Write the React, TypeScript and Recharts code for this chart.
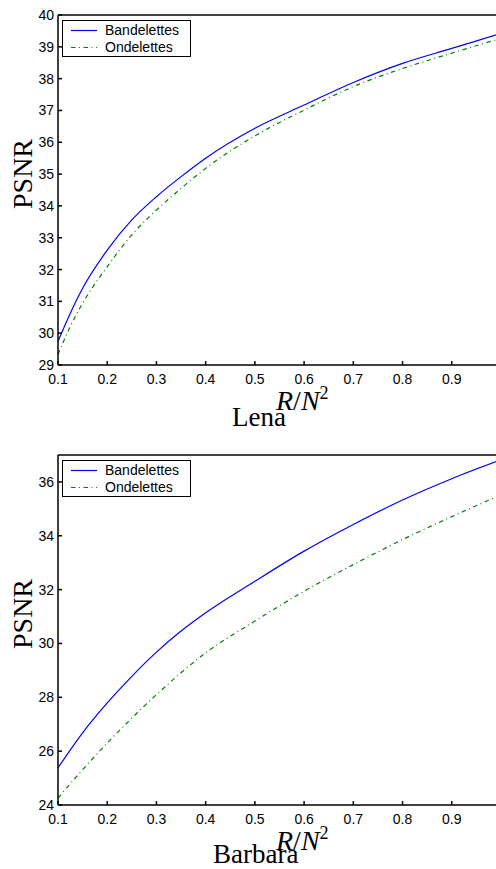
import React from "react";
import { LineChart, Line, XAxis, YAxis, Legend } from "recharts";

// R/N^2 sample positions
const LENA_X = [0.1, 0.125, 0.15, 0.2, 0.25, 0.3, 0.35, 0.4, 0.5, 0.6, 0.7, 0.8, 0.9, 1.0];
const LENA_BANDELETTES = [29.74, 30.63, 31.41, 32.61, 33.56, 34.29, 34.92, 35.5, 36.44, 37.17, 37.88, 38.48, 38.95, 39.42];
const LENA_ONDELETTES = [29.33, 30.21, 30.94, 32.09, 33.09, 33.87, 34.55, 35.18, 36.2, 37.01, 37.75, 38.32, 38.8, 39.27];

const BARBARA_X = [0.1, 0.15, 0.2, 0.25, 0.3, 0.35, 0.4, 0.5, 0.6, 0.7, 0.8, 0.9, 1.0];
const BARBARA_BANDELETTES = [25.38, 26.68, 27.79, 28.78, 29.68, 30.46, 31.14, 32.31, 33.43, 34.42, 35.33, 36.12, 36.82];
const BARBARA_ONDELETTES = [24.26, 25.31, 26.3, 27.23, 28.1, 28.91, 29.65, 30.83, 31.94, 32.93, 33.86, 34.71, 35.52];

const X_TICKS = [0.1, 0.2, 0.3, 0.4, 0.5, 0.6, 0.7, 0.8, 0.9];
const LENA_Y_TICKS = [29, 30, 31, 32, 33, 34, 35, 36, 37, 38, 39, 40];
const BARBARA_Y_TICKS = [24, 26, 28, 30, 32, 34, 36];

const SANS = "'Liberation Sans', Arial, Helvetica, sans-serif";
const SERIF = "'Liberation Serif', 'Times New Roman', serif";

const SERIES = [
  { key: "bandelettes", label: "Bandelettes", color: "#0000ff", dash: undefined as string | undefined },
  { key: "ondelettes", label: "Ondelettes", color: "#008000", dash: "4.5 3.5 1 3.5" },
];

function LegendBox() {
  return (
    <div
      style={{
        width: 129,
        height: 37,
        boxSizing: "border-box",
        border: "1.5px solid #000",
        background: "#fff",
        paddingTop: 1,
        fontFamily: SANS,
        fontSize: 14,
        color: "#000",
      }}
    >
      {SERIES.map((s) => (
        <div key={s.key} style={{ display: "flex", alignItems: "center", height: 17 }}>
          <svg width={42} height={17} style={{ flex: "none" }}>
            <line x1={8} x2={34} y1={8.5} y2={8.5} stroke={s.color} strokeWidth={1.2} strokeDasharray={s.dash} />
          </svg>
          <span style={{ lineHeight: "17px" }}>{s.label}</span>
        </div>
      ))}
    </div>
  );
}

type PanelProps = {
  xs: number[];
  bandelettes: number[];
  ondelettes: number[];
  yDomain: [number, number];
  yTicks: number[];
};

function Panel({ xs, bandelettes, ondelettes, yDomain, yTicks }: PanelProps) {
  const data = xs.map((x, i) => ({ x, bandelettes: bandelettes[i], ondelettes: ondelettes[i] }));
  return (
    <LineChart width={515} height={440} data={data} margin={{ top: 14, right: 14, bottom: 45, left: 13 }}>
      <XAxis
        xAxisId="top"
        orientation="top"
        dataKey="x"
        type="number"
        domain={[0.1, 1.0]}
        ticks={X_TICKS}
        height={1}
        tick={false}
        tickSize={-4}
        stroke="#000"
        strokeWidth={1.5}
      />
      <XAxis
        dataKey="x"
        type="number"
        domain={[0.1, 1.0]}
        ticks={X_TICKS}
        height={30}
        tickSize={-4}
        tickMargin={13}
        tickFormatter={(v: number) => v.toFixed(1)}
        tick={{ fill: "#000", fontSize: 14, fontFamily: SANS }}
        stroke="#000"
        strokeWidth={1.5}
      />
      <YAxis
        domain={yDomain}
        ticks={yTicks}
        width={45}
        tickSize={-4}
        tickMargin={8}
        tick={{ fill: "#000", fontSize: 14, fontFamily: SANS }}
        stroke="#000"
        strokeWidth={1.5}
        interval={0}
      />
      {/* centered + middle keeps the legend from eating plot space; wrapperStyle places it */}
      <Legend
        layout="horizontal"
        verticalAlign="middle"
        align="center"
        content={() => <LegendBox />}
        wrapperStyle={{ top: 20, left: 62, width: 129 }}
      />
      {SERIES.map((s) => (
        <Line
          key={s.key}
          type="monotone"
          dataKey={s.key}
          name={s.label}
          stroke={s.color}
          strokeWidth={1.2}
          strokeDasharray={s.dash}
          dot={false}
          activeDot={false}
          isAnimationActive={false}
        />
      ))}
    </LineChart>
  );
}

function Captions({ top, title, titleX, titleY }: { top: number; title: string; titleX: number; titleY: number }) {
  return (
    <svg width={496} height={440} style={{ position: "absolute", left: 0, top, pointerEvents: "none" }}>
      <text
        x={0}
        y={0}
        transform="translate(32 174) rotate(-90)"
        textAnchor="middle"
        fontFamily={SERIF}
        fontSize={28}
        fill="#000"
      >
        PSNR
      </text>
      <text x={276} y={410} fontFamily={SERIF} fontSize={28} fill="#000">
        <tspan fontStyle="italic">R</tspan>
        <tspan>/</tspan>
        <tspan fontStyle="italic">N</tspan>
        <tspan fontSize={18} dy={-11}>2</tspan>
      </text>
      <text x={titleX} y={titleY} fontFamily={SERIF} fontSize={27} fill="#000">
        {title}
      </text>
    </svg>
  );
}

export default function App() {
  return (
    <div style={{ position: "absolute", left: 0, top: 0, width: 496, height: 869, overflow: "hidden", background: "#fff" }}>
      <div style={{ position: "absolute", left: 0, top: 0 }}>
        <Panel
          xs={LENA_X}
          bandelettes={LENA_BANDELETTES}
          ondelettes={LENA_ONDELETTES}
          yDomain={[29, 40]}
          yTicks={LENA_Y_TICKS}
        />
      </div>
      <div style={{ position: "absolute", left: 0, top: 440 }}>
        <Panel
          xs={BARBARA_X}
          bandelettes={BARBARA_BANDELETTES}
          ondelettes={BARBARA_ONDELETTES}
          yDomain={[24, 37]}
          yTicks={BARBARA_Y_TICKS}
        />
      </div>
      <Captions top={0} title="Lena" titleX={232} titleY={426} />
      <Captions top={440} title="Barbara" titleX={213} titleY={423} />
    </div>
  );
}
